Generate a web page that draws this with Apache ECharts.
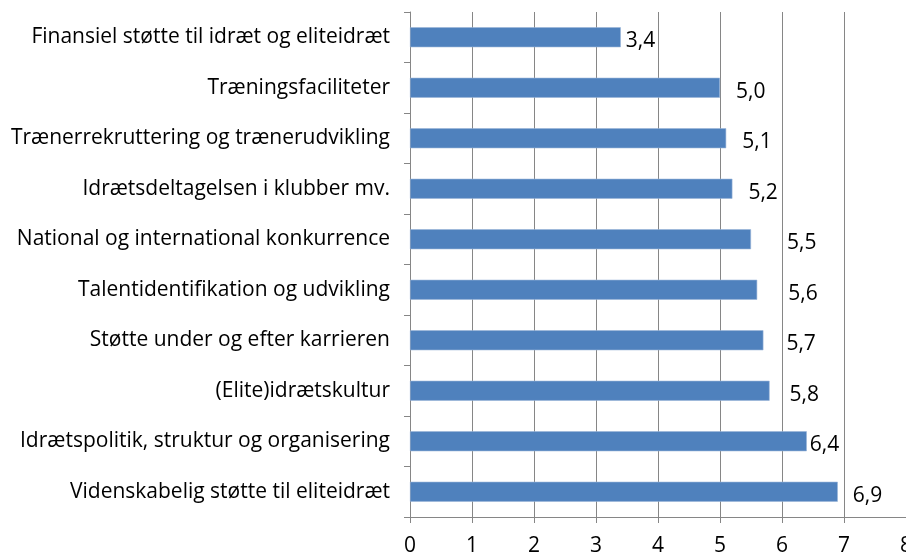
<!DOCTYPE html>
<html>
<head>
<meta charset="utf-8">
<script src="https://cdn.jsdelivr.net/npm/echarts@6/dist/echarts.min.js"></script>
<style>
  html, body { margin: 0; padding: 0; background: #fff; }
  #chart { width: 906px; height: 556px; }
</style>
</head>
<body>
<div id="chart"></div>
<script>
var categories = [
    'Finansiel støtte til idræt og eliteidræt',
    'Træningsfaciliteter',
    'Trænerrekruttering og trænerudvikling',
    'Idrætsdeltagelsen i klubber mv.',
    'National og international konkurrence',
    'Talentidentifikation og udvikling',
    'Støtte under og efter karrieren',
    '(Elite)idrætskultur',
    'Idrætspolitik, struktur og organisering',
    'Videnskabelig støtte til eliteidræt'
];
var values = [3.4, 5.0, 5.1, 5.2, 5.5, 5.6, 5.7, 5.8, 6.4, 6.9];
var valueLabels = ['3,4', '5,0', '5,1', '5,2', '5,5', '5,6', '5,7', '5,8', '6,4', '6,9'];
var xTicks = ['0', '1', '2', '3', '4', '5', '6', '7', '8'];

// hand-placed label gaps, as in the original
var labelGap = [5, 16, 16, 16, 36, 31, 23, 20, 3, 15];

var dom = document.getElementById('chart');
var myChart = echarts.init(dom);
var font = 'Open Sans';
var gridColor = '#868686';

var barData = values.map(function (v, i) {
    return {
        value: v,
        label: { offset: [labelGap[i], 4] }
    };
});

var option = {
    animation: false,
    textStyle: { fontFamily: font },
    grid: { left: 410, top: 12, right: 0, bottom: 39, containLabel: false, outerBoundsMode: 'none' },
    xAxis: {
        type: 'value',
        min: 0,
        max: 8,
        interval: 1,
        axisLine: { show: true, lineStyle: { color: gridColor, width: 1 } },
        axisTick: { show: true, length: 6, lineStyle: { color: gridColor } },
        splitLine: { show: true, lineStyle: { color: gridColor, width: 1 } },
        axisLabel: {
            margin: 19,
            fontSize: 21,
            color: '#000',
            fontFamily: font,
            showMaxLabel: true,
            formatter: function (v) { return xTicks[v]; }
        }
    },
    yAxis: {
        type: 'category',
        inverse: true,
        data: categories,
        axisLine: { show: true, lineStyle: { color: gridColor, width: 1 } },
        axisTick: { show: true, length: 6, lineStyle: { color: gridColor } },
        axisLabel: {
            margin: 20,
            fontSize: 21,
            color: '#000',
            fontFamily: font
        }
    },
    series: [{
        type: 'bar',
        data: barData,
        barWidth: 20,
        itemStyle: { color: '#4f81bd', borderColor: '#9ab6d9', borderWidth: 0.6 },
        label: {
            show: true,
            position: 'right',
            distance: 0,
            fontSize: 21,
            color: '#000',
            fontFamily: font,
            formatter: function (p) { return valueLabels[p.dataIndex]; }
        }
    }]
};

myChart.setOption(option);
</script>
</body>
</html>
